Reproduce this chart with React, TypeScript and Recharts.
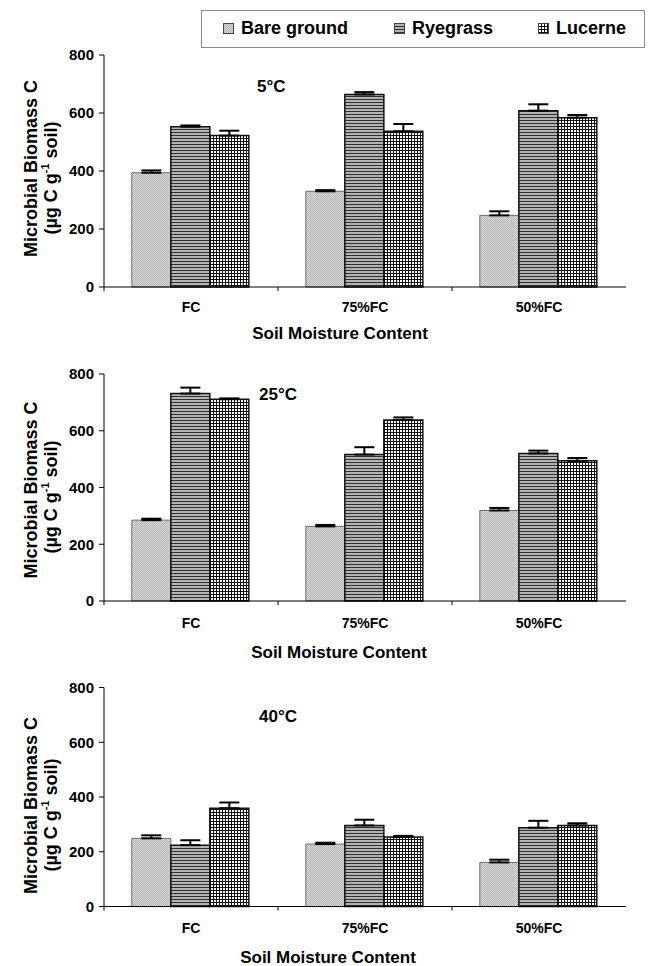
import React from 'react';
import { BarChart, Bar, XAxis, YAxis, ErrorBar } from 'recharts';

// Soil moisture treatments (x categories)
const moistureLevels = ['FC', '75%FC', '50%FC'];
const yTicks = [0, 200, 400, 600, 800];

// Microbial biomass C (µg C g-1 soil), 5°C
const bare5 = [394, 330, 247];
const bare5Err = [8, 4, 14];
const rye5 = [553, 664, 608];
const rye5Err = [4, 8, 22];
const luc5 = [522, 537, 584];
const luc5Err = [17, 25, 9];

// 25°C
const bare25 = [285, 263, 319];
const bare25Err = [5, 5, 9];
const rye25 = [731, 516, 520];
const rye25Err = [21, 26, 10];
const luc25 = [711, 638, 494];
const luc25Err = [3, 9, 10];

// 40°C
const bare40 = [249, 228, 161];
const bare40Err = [11, 5, 10];
const rye40 = [224, 296, 288];
const rye40Err = [18, 21, 25];
const luc40 = [359, 254, 296];
const luc40Err = [21, 4, 8];

const seriesNames = ['Bare ground', 'Ryegrass', 'Lucerne'];

const FONT = '"Liberation Sans", Arial, Helvetica, sans-serif';

const seriesStyle = [
    { key: 'bare', fill: 'url(#patBare)', stroke: '#6e6e6e', strokeWidth: 1 },
    { key: 'rye', fill: 'url(#patRye)', stroke: '#111', strokeWidth: 1.5 },
    { key: 'luc', fill: 'url(#patLuc)', stroke: '#111', strokeWidth: 1.5 },
];

const buildRows = (bare: number[], bareErr: number[], rye: number[], ryeErr: number[], luc: number[], lucErr: number[]) =>
    moistureLevels.map((cat, i) => ({
        cat,
        bare: bare[i],
        bareErr: [0, bareErr[i]],
        rye: rye[i],
        ryeErr: [0, ryeErr[i]],
        luc: luc[i],
        lucErr: [0, lucErr[i]],
    }));

const panels = [
    {
        temp: '5°C', rows: buildRows(bare5, bare5Err, rye5, rye5Err, luc5, luc5Err),
        top: 0, height: 345, margin: { top: 55, right: 26, bottom: 8, left: 0 },
        tempX: 257, tempY: 92, titleX: 340, titleDy: 52, tickDy: 25, yl1: 168.5, yl2: 178,
    },
    {
        temp: '25°C', rows: buildRows(bare25, bare25Err, rye25, rye25Err, luc25, luc25Err),
        top: 345, height: 320, margin: { top: 29, right: 26, bottom: 14, left: 0 },
        tempX: 259, tempY: 400, titleX: 339, titleDy: 57, tickDy: 27, yl1: 490, yl2: 497,
    },
    {
        temp: '40°C', rows: buildRows(bare40, bare40Err, rye40, rye40Err, luc40, luc40Err),
        top: 665, height: 301, margin: { top: 22.5, right: 26, bottom: 9.5, left: 0 },
        tempX: 259, tempY: 722, titleX: 328, titleDy: 56.5, tickDy: 26.5, yl1: 805.5, yl2: 815,
    },
];

// category label plus a tick mark on the left edge of each category band
const CategoryTick = (props: any) => {
    const { x, y, payload, dy } = props;
    const half = payload && payload.offset ? payload.offset : 0;
    return (
        <g>
            <line x1={x - half} x2={x - half} y1={y} y2={y + 4} stroke="#000" strokeWidth={1} />
            <text x={x} y={y + dy} textAnchor="middle" fontFamily={FONT} fontWeight="bold" fontSize={14} fill="#000">
                {payload.value}
            </text>
        </g>
    );
};

const Patterns = () => (
    <svg width={0} height={0} style={{ position: 'absolute' }}>
        <defs>
            <pattern id="patBare" width={2} height={2} patternUnits="userSpaceOnUse">
                <rect width={2} height={2} fill="#dcdcdc" />
                <rect width={1} height={1} fill="#b0b0b0" />
                <rect x={1} y={1} width={1} height={1} fill="#b0b0b0" />
            </pattern>
            <pattern id="patRye" width={4} height={3} patternUnits="userSpaceOnUse">
                <rect width={4} height={3} fill="#b4b4b4" />
                <rect width={4} height={1} fill="#303030" />
            </pattern>
            <pattern id="patLuc" width={3} height={3} patternUnits="userSpaceOnUse">
                <rect width={3} height={3} fill="#fff" />
                <rect width={1} height={3} fill="#111" />
                <rect width={3} height={1} fill="#111" />
            </pattern>
        </defs>
    </svg>
);

const LegendBox = () => (
    <div
        style={{
            position: 'absolute', left: 201, top: 10, width: 444, height: 38, boxSizing: 'border-box',
            border: '1px solid #8a8a8a', fontFamily: FONT, fontWeight: 'bold', fontSize: 18,
        }}
    >
        {seriesNames.map((name, i) => (
            <div key={name} style={{ position: 'absolute', left: [21, 192, 336][i], top: 7, display: 'flex', alignItems: 'center', whiteSpace: 'nowrap' }}>
                <svg width={11} height={11} style={{ marginRight: 7 }}>
                    <rect x={0.5} y={0.5} width={10} height={10} fill={seriesStyle[i].fill} stroke="#444" strokeWidth={1} />
                </svg>
                <span>{name}</span>
            </div>
        ))}
    </div>
);

export default function App() {
    return (
        <div style={{ position: 'absolute', left: 0, top: 0, width: 652, height: 966, background: '#fff' }}>
            <Patterns />
            <LegendBox />
            {panels.map((p) => {
                const plotBottom = p.top + p.height - p.margin.bottom - 50;
                return (
                    <div key={p.temp} style={{ position: 'absolute', left: 0, top: p.top }}>
                        <BarChart
                            width={652}
                            height={p.height}
                            data={p.rows}
                            margin={p.margin}
                            barCategoryGap="16%"
                            barGap={0}
                        >
                            <XAxis
                                dataKey="cat"
                                height={50}
                                interval={0}
                                tickLine={false}
                                tickSize={0}
                                tickMargin={0}
                                axisLine={{ stroke: '#000', strokeWidth: 1 }}
                                tick={<CategoryTick dy={p.tickDy} />}
                            />
                            <YAxis
                                width={104}
                                domain={[0, 800]}
                                ticks={yTicks}
                                interval={0}
                                tickSize={5}
                                tickMargin={5}
                                axisLine={{ stroke: '#000', strokeWidth: 1 }}
                                tickLine={{ stroke: '#000', strokeWidth: 1 }}
                                tick={{ fill: '#000', fontFamily: FONT, fontWeight: 'bold', fontSize: 15 }}
                            />
                            {seriesStyle.map((s, i) => (
                                <Bar
                                    key={s.key}
                                    dataKey={s.key}
                                    name={seriesNames[i]}
                                    fill={s.fill}
                                    stroke={s.stroke}
                                    strokeWidth={s.strokeWidth}
                                    isAnimationActive={false}
                                >
                                    <ErrorBar
                                        dataKey={s.key + 'Err'}
                                        direction="y"
                                        width={10}
                                        stroke="#000"
                                        strokeWidth={2}
                                        isAnimationActive={false}
                                    />
                                </Bar>
                            ))}
                            <text x={p.tempX} y={p.tempY - p.top} fontFamily={FONT} fontWeight="bold" fontSize={17} fill="#000">
                                {p.temp}
                            </text>
                            <text
                                x={p.titleX}
                                y={plotBottom - p.top + p.titleDy}
                                textAnchor="middle"
                                fontFamily={FONT}
                                fontWeight="bold"
                                fontSize={17}
                                fill="#000"
                            >
                                Soil Moisture Content
                            </text>
                            <text
                                transform={`translate(37, ${p.yl1 - p.top}) rotate(-90)`}
                                textAnchor="middle"
                                fontFamily={FONT}
                                fontWeight="bold"
                                fontSize={18}
                                fill="#000"
                            >
                                Microbial Biomass C
                            </text>
                            <text
                                transform={`translate(57, ${p.yl2 - p.top}) rotate(-90)`}
                                textAnchor="middle"
                                fontFamily={FONT}
                                fontWeight="bold"
                                fontSize={18}
                                fill="#000"
                            >
                                (µg C g
                                <tspan fontSize={11} dy={-8}>-1</tspan>
                                <tspan dy={8}> soil)</tspan>
                            </text>
                        </BarChart>
                    </div>
                );
            })}
        </div>
    );
}
